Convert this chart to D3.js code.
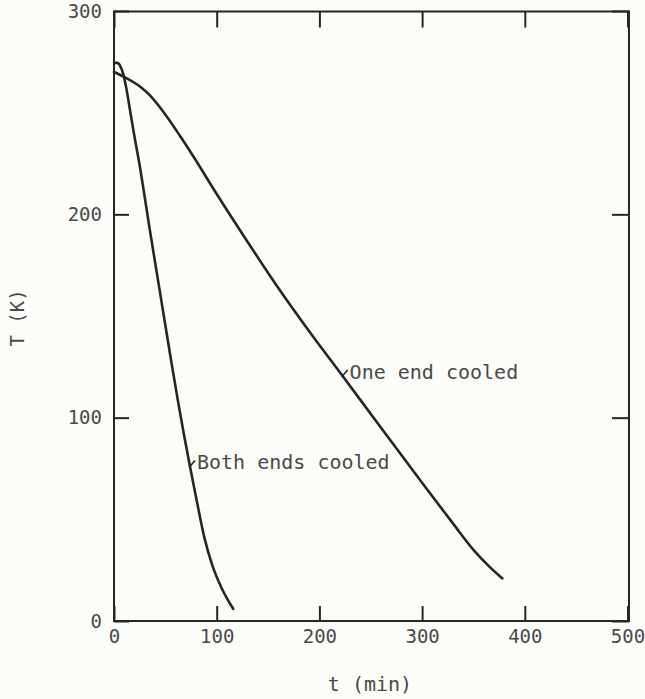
<!DOCTYPE html>
<html>
<head>
<meta charset="utf-8">
<script src="https://cdn.jsdelivr.net/npm/d3@7"></script>
<style>
  html, body { margin: 0; padding: 0; background: #fcfcf8; }
  svg { display: block; }
  text { font-family: "DejaVu Sans Mono", "Liberation Mono", monospace; fill: #4a4a4a; }
</style>
</head>
<body>
<svg id="chart" width="645" height="699"></svg>
<script>
// ---- data ----
const xTicks = [0, 100, 200, 300, 400, 500];
const yTicks = [0, 100, 200, 300];
const bothT   = [0, 3, 6, 9, 12, 16, 20, 24, 35, 45, 55, 62, 68, 74, 81, 88, 96, 105, 116];
const bothK   = [274.5, 274.5, 273, 269, 262, 250, 238, 227, 192, 161, 130, 109, 92, 76, 58, 41, 27, 16, 6];
const oneT    = [0, 12, 25, 35, 51, 65, 77, 100, 130, 161, 190, 222.6, 260, 300, 330, 350, 365, 378];
const oneK    = [270, 267, 263, 258.5, 248.4, 238, 228.7, 210, 186.5, 163, 142.5, 120.5, 95, 68, 48, 35, 27, 21];
const labels  = ["Both ends cooled", "One end cooled"];
const labelAt = [[74, 76], [222.6, 120.5]];
const xTitle = "t (min)";
const yTitle = "T (K)";

// ---- layout ----
const svg = d3.select("#chart");
const pL = 114, pR = 629, pT = 11.5, pB = 621;
const x = d3.scaleLinear().domain([0, 500]).range([pL, 627.5]);
const y = d3.scaleLinear().domain([0, 300]).range([pB, 11]);
const ink = "#262626";

// frame
svg.append("rect")
  .attr("x", pL).attr("y", pT)
  .attr("width", pR - pL).attr("height", pB - pT)
  .attr("fill", "none").attr("stroke", ink).attr("stroke-width", 2);

// axes with inward ticks
const axB = d3.axisBottom(x).tickValues(xTicks).tickFormat(d3.format("d"))
  .tickSizeInner(-15).tickSizeOuter(0).tickPadding(9);
const axT = d3.axisTop(x).tickValues(xTicks).tickFormat("")
  .tickSizeInner(-16).tickSizeOuter(0);
const axL = d3.axisLeft(y).tickValues(yTicks).tickFormat(d3.format("d"))
  .tickSizeInner(-15).tickSizeOuter(0).tickPadding(12);
const axR = d3.axisRight(y).tickValues(yTicks).tickFormat("")
  .tickSizeInner(-17).tickSizeOuter(0);

function style(g) {
  g.select(".domain").remove();
  g.selectAll(".tick line").attr("stroke", ink).attr("stroke-width", 2);
  g.selectAll(".tick text").style("font-family", '"DejaVu Sans Mono", monospace')
    .attr("font-size", 19).attr("fill", "#4a4a4a");
}
svg.append("g").attr("transform", `translate(0,${pB})`).call(axB).call(style);
svg.append("g").attr("transform", `translate(0,${pT})`).call(axT).call(style);
svg.append("g").attr("transform", `translate(${pL},0)`).call(axL).call(style);
svg.append("g").attr("transform", `translate(${pR},0)`).call(axR).call(style);

// curves
const line = d3.line().x(d => x(d[0])).y(d => y(d[1])).curve(d3.curveMonotoneX);
const series = [d3.zip(bothT, bothK), d3.zip(oneT, oneK)];
svg.append("g").selectAll("path").data(series).join("path")
  .attr("d", line)
  .attr("fill", "none").attr("stroke", ink).attr("stroke-width", 2.6)
  .attr("stroke-linecap", "round");

// annotations with little leader ticks
labelAt.forEach((p, i) => {
  const px = x(p[0]), py = y(p[1]);
  svg.append("path")
    .attr("d", `M${px - 1},${py + 1}L${px + 5},${py - 6}`)
    .attr("stroke", ink).attr("stroke-width", 1.6).attr("fill", "none");
  svg.append("text")
    .attr("x", px + 7).attr("y", py + 3)
    .attr("font-size", 20)
    .text(labels[i]);
});

// axis titles
svg.append("text")
  .attr("x", 370).attr("y", 691)
  .attr("text-anchor", "middle").attr("font-size", 20)
  .text(xTitle);
svg.append("text")
  .attr("transform", "translate(24,318) rotate(-90)")
  .attr("text-anchor", "middle").attr("font-size", 19)
  .text(yTitle);
</script>
</body>
</html>
